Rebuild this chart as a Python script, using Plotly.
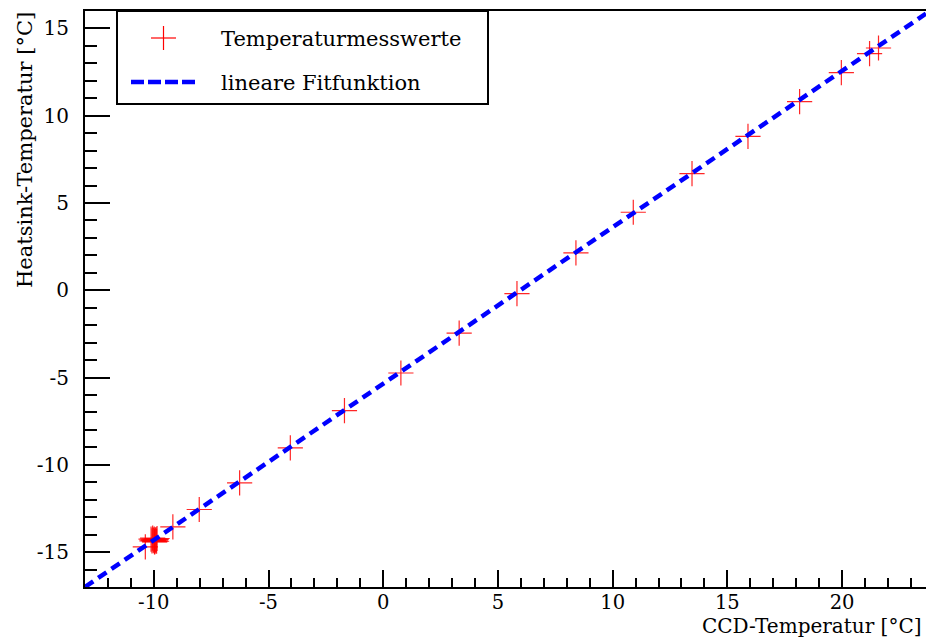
import plotly.graph_objects as go

# Data
ccd_temp = [-10.37, -10.08, -10.03, -9.98, -9.95, -9.90, -9.86, -10.00,
            -10.12, -9.93, -9.88, -10.05, -9.97,
            -9.17, -8.02, -6.26, -4.05, -1.69, 0.77, 3.31, 5.83, 8.40,
            10.90, 13.46, 15.90, 18.15, 19.97, 21.20, 21.59]
heatsink_temp = [-14.70, -14.36, -14.30, -14.25, -14.40, -14.28, -14.22, -14.34,
                 -14.26, -14.32, -14.38, -14.20, -14.42,
                 -13.56, -12.56, -11.04, -9.03, -6.89, -4.74, -2.45, -0.19, 2.14,
                 4.47, 6.68, 8.82, 10.81, 12.47, 13.56, 13.88]
fit_slope = 0.896
fit_intercept = -5.35
x_range = [-13.0, 23.66]
y_range = [-17.0, 16.0]
x_tickvals = [-10, -5, 0, 5, 10, 15, 20]
x_ticktext = ["-10", "-5", "0", "5", "10", "15", "20"]
y_tickvals = [-15, -10, -5, 0, 5, 10, 15]
y_ticktext = ["-15", "-10", "-5", "0", "5", "10", "15"]

W, H = 926, 639
ML, MR, MT, MB = 85, 0, 11, 52
PW, PH = W - ML - MR, H - MT - MB

def px(x):
    return (x - ML) / PW

def py(y):
    return (H - MB - y) / PH

FONT = "DejaVu Serif"

fig = go.Figure()
fig.add_trace(go.Scatter(
    x=ccd_temp, y=heatsink_temp, mode="markers",
    marker=dict(symbol="cross-thin", size=18,
                line=dict(color="rgba(255,0,0,0.85)", width=1.2)),
    showlegend=False))
fit_x = [x_range[0], x_range[1]]
fit_y = [fit_slope * v + fit_intercept for v in fit_x]
fig.add_trace(go.Scatter(
    x=fit_x, y=fit_y, mode="lines",
    line=dict(color="#0000ff", width=4.5, dash="10px,6px"),
    showlegend=False))

axis_common = dict(
    showgrid=False, zeroline=False, showline=True, linecolor="black",
    linewidth=2, ticks="inside", tickcolor="black", tickwidth=2,
)
fig.update_xaxes(range=x_range, tickmode="array", tickvals=x_tickvals,
                 ticktext=x_ticktext, ticklen=17, mirror=True,
                 ticklabelstandoff=-3,
                 tickfont=dict(family=FONT, size=19.5, color="black"),
                 minor=dict(ticks="inside", tick0=0, dtick=1, ticklen=9, tickwidth=2,
                            tickcolor="black"),
                 **axis_common)
fig.update_yaxes(range=y_range, tickmode="array", tickvals=y_tickvals,
                 ticktext=y_ticktext, ticklen=25, mirror=False,
                 ticklabelstandoff=10,
                 tickfont=dict(family=FONT, size=20, color="black"),
                 minor=dict(ticks="inside", tick0=0, dtick=1, ticklen=12, tickwidth=2,
                            tickcolor="black"),
                 **axis_common)

shapes = []
# legend box
shapes.append(dict(type="rect", xref="paper", yref="paper",
                   x0=px(117), x1=px(488), y0=py(104), y1=py(11),
                   line=dict(color="black", width=2), fillcolor="white", layer="above"))
# legend marker (plus)
shapes.append(dict(type="line", xref="paper", yref="paper",
                   x0=px(151), x1=px(176), y0=py(38), y1=py(38),
                   line=dict(color="red", width=1.2), layer="above"))
shapes.append(dict(type="line", xref="paper", yref="paper",
                   x0=px(163.5), x1=px(163.5), y0=py(26), y1=py(50),
                   line=dict(color="red", width=1.2), layer="above"))
# legend dashed line
shapes.append(dict(type="line", xref="paper", yref="paper",
                   x0=px(131), x1=px(197), y0=py(82), y1=py(82),
                   line=dict(color="#0000ff", width=4.5, dash="13px,4px"), layer="above"))

annotations = [
    dict(text="Temperaturmesswerte", xref="paper", yref="paper",
         x=px(219), y=py(39), xanchor="left", yanchor="middle", showarrow=False,
         font=dict(family=FONT, size=21, color="black")),
    dict(text="lineare Fitfunktion", xref="paper", yref="paper",
         x=px(219), y=py(83), xanchor="left", yanchor="middle", showarrow=False,
         font=dict(family=FONT, size=21, color="black")),
    dict(text="CCD-Temperatur [°C]", xref="paper", yref="paper",
         x=px(923), y=py(639), xanchor="right", yanchor="bottom", showarrow=False,
         borderpad=0, font=dict(family=FONT, size=20, color="black")),
    dict(text="Heatsink-Temperatur [°C]", xref="paper", yref="paper",
         x=px(25), y=py(11), xanchor="center", yanchor="top", showarrow=False,
         borderpad=0, textangle=-90, font=dict(family=FONT, size=21, color="black")),
]

fig.update_layout(
    width=W, height=H, autosize=False,
    margin=dict(l=ML, r=MR, t=MT, b=MB, pad=0),
    paper_bgcolor="white", plot_bgcolor="white",
    shapes=shapes, annotations=annotations, showlegend=False,
)

fig.write_html("out.html")
